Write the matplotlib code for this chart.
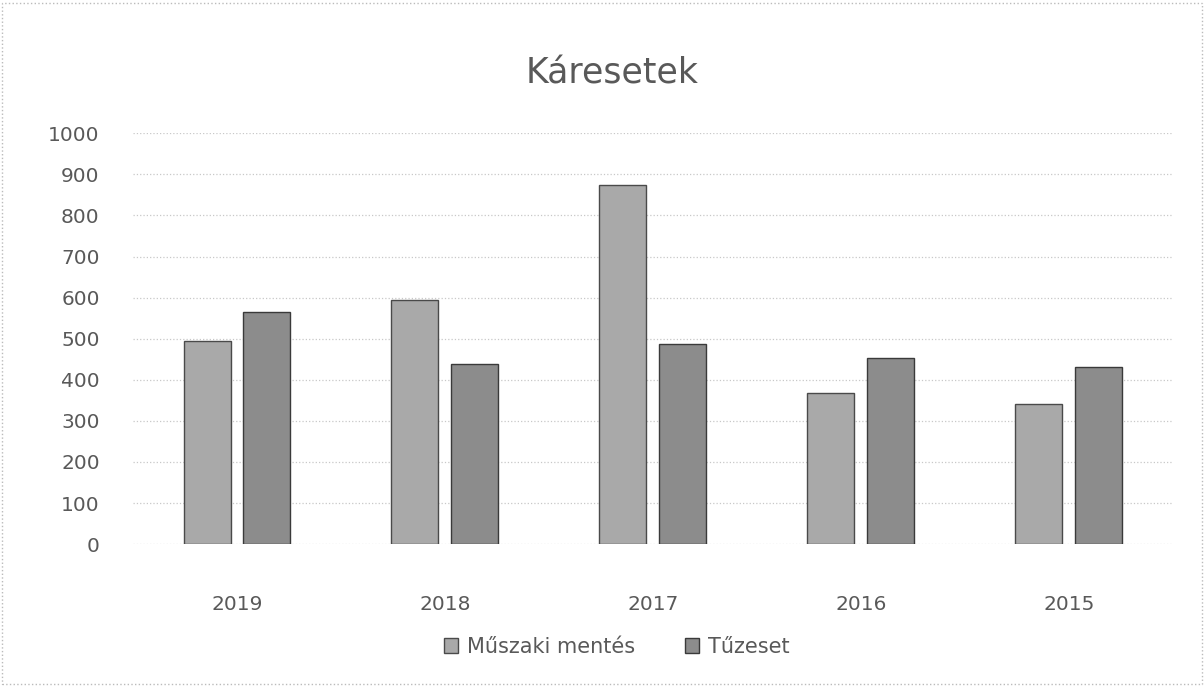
import matplotlib.pyplot as plt
import numpy as np

# --- グラフにプロットするデータ ---
years = ["2019", "2018", "2017", "2016", "2015"]
muszaki = [495, 595, 873, 367, 341]
tuzeset = [565, 438, 488, 453, 430]
series_names = ["Műszaki mentés", "Tűzeset"]
y_ticks = [0, 100, 200, 300, 400, 500, 600, 700, 800, 900, 1000]


def make_fig():
    # --- フォントの設定 ---
    plt.rcParams['font.family'] = ['DejaVu Sans']
    plt.rcParams['axes.unicode_minus'] = False

    fig = plt.figure(figsize=(12.04, 6.87), dpi=100)
    ax = fig.add_axes([0.1105, 0.208, 0.8635, 0.598])

    x = np.arange(len(years))
    width = 0.226
    gap = 0.031

    # 棒グラフを描画
    ax.bar(x - width / 2 - gap, muszaki, width, color='#a9a9a9', edgecolor='#4a4a4a',
           linewidth=1.0, label=series_names[0], zorder=3)
    ax.bar(x + width / 2 + gap, tuzeset, width, color='#8c8c8c', edgecolor='#3a3a3a',
           linewidth=1.0, label=series_names[1], zorder=3)

    # --- グラフの装飾 ---
    fig.text(0.508, 0.893, 'Káresetek', fontsize=25, color='#595959', ha='center', va='center')
    ax.set_xlim(-0.5, len(years) - 0.5)
    ax.set_ylim(0, 1000)
    ax.set_yticks(y_ticks)
    ax.set_xticks(x)
    ax.set_xticklabels(years)
    ax.grid(True, axis='y', linestyle=':', color='#c8c8c8', linewidth=0.9, zorder=0)
    for side in ['top', 'right', 'left', 'bottom']:
        ax.spines[side].set_visible(False)
    ax.tick_params(axis='both', length=0, labelsize=14.5, labelcolor='#595959')
    ax.tick_params(axis='x', pad=37)
    ax.tick_params(axis='y', pad=24)

    ax.legend(loc='upper center', bbox_to_anchor=(0.465, -0.18), ncol=2, frameon=False,
              fontsize=15, labelcolor='#595959', handlelength=0.7, handleheight=0.7,
              columnspacing=2.4, handletextpad=0.4)

    # 外枠
    fig.patches.append(plt.Rectangle((0.002, 0.004), 0.996, 0.992, transform=fig.transFigure,
                                     fill=False, edgecolor='#bbbbbb', linestyle=':', linewidth=1))
    return fig


fig = make_fig()
fig.savefig('out.png', dpi=100)
